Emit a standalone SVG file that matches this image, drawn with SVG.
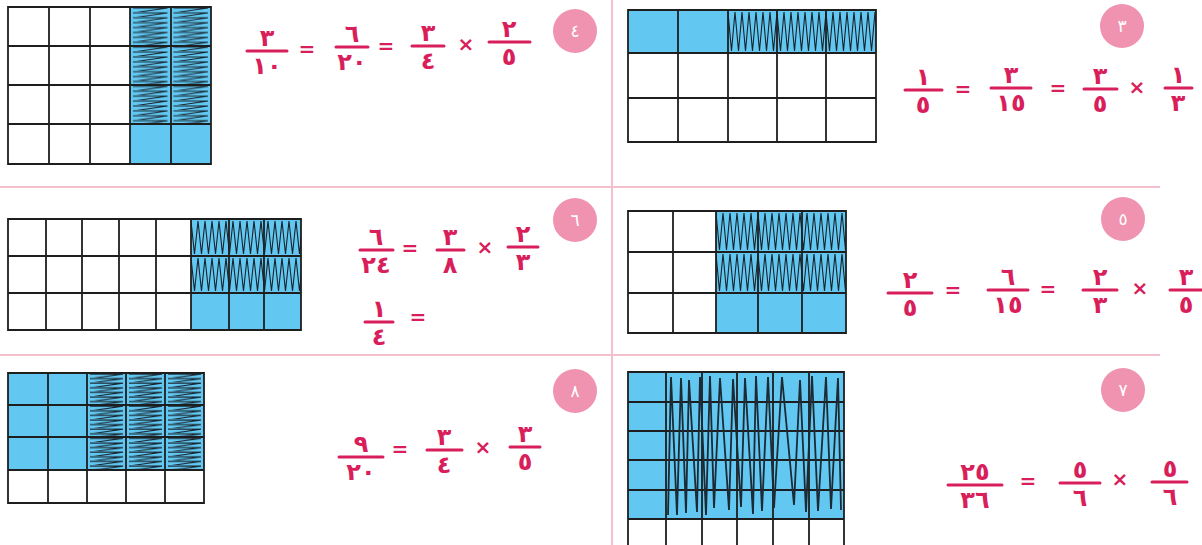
<svg xmlns="http://www.w3.org/2000/svg" width="1202" height="545" viewBox="0 0 1202 545">
<style>
.bg{fill:#ffffff}
.div{stroke:#f5bfcc;stroke-width:2;fill:none}
.blue{fill:#62c8f1}
.grid{stroke:#1e1e1e;stroke-width:1.8;fill:none}
.zz{stroke:#1c2a35;stroke-width:1.8;fill:none}
.n{font-family:"DejaVu Sans","Noto Sans",sans-serif;font-weight:bold;font-size:24px;fill:#d81e5b;text-anchor:middle}
.op{font-family:"DejaVu Sans","Noto Sans",sans-serif;font-weight:bold;font-size:20px;fill:#d81e5b;text-anchor:middle}
.bar{stroke:#d81e5b;stroke-width:3;stroke-linecap:round}
.badge{fill:#ef93b1}
.bt{font-family:"DejaVu Sans","Noto Sans",sans-serif;font-size:17px;fill:#ffffff;text-anchor:middle}
</style>
<defs>
<pattern id="hz4" patternUnits="userSpaceOnUse" x="130" y="7" width="40.5" height="4.9"><path d="M3,1 H37.5 L3,5.9" stroke="#16222c" stroke-width="1" fill="none"/></pattern>
<pattern id="hz8" patternUnits="userSpaceOnUse" x="87" y="373" width="39" height="4.6"><path d="M3,1 H36 L3,5.6" stroke="#16222c" stroke-width="1" fill="none"/></pattern>
<pattern id="hv3" patternUnits="userSpaceOnUse" x="728" y="10" width="7" height="43"><path d="M0,2 L3.5,41 L7,2" stroke="#16222c" stroke-width="1.1" fill="none"/></pattern>
<pattern id="hv6" patternUnits="userSpaceOnUse" x="191" y="219" width="7" height="37"><path d="M0,2 L3.5,35 L7,2" stroke="#16222c" stroke-width="1.1" fill="none"/></pattern>
<pattern id="hv5" patternUnits="userSpaceOnUse" x="716" y="211" width="7" height="41"><path d="M0,2 L3.5,39 L7,2" stroke="#16222c" stroke-width="1.1" fill="none"/></pattern>
</defs>
<rect class="bg" x="0" y="0" width="1202" height="545"/>
<g id="connectors">
<path class="div" d="M612,0V545 M0,187H1160 M0,355H1160"/>
</g>

<g id="panel4">
<rect class="blue" x="130" y="7" width="81" height="157"/>
<rect fill="url(#hz4)" x="130" y="7" width="81" height="117"/>
<path class="grid" d="M8,7H211V164H8Z M49,7V164 M90,7V164 M130,7V164 M171,7V164 M8,46H211 M8,85H211 M8,124H211"/>
<line class="bar" x1="247" y1="51" x2="287" y2="51"/><text class="n" x="267" y="46">٣</text><text class="n" x="267" y="74">١٠</text>
<text class="op" x="307" y="56">=</text>
<line class="bar" x1="336" y1="47" x2="368" y2="47"/><text class="n" x="352" y="42">٦</text><text class="n" x="352" y="70">٢٠</text>
<text class="op" x="386" y="53">=</text>
<line class="bar" x1="412" y1="46" x2="444" y2="46"/><text class="n" x="428" y="41">٣</text><text class="n" x="428" y="69">٤</text>
<text class="op" x="466" y="51">×</text>
<line class="bar" x1="489" y1="42" x2="530" y2="42"/><text class="n" x="509" y="37">٢</text><text class="n" x="509" y="65">٥</text>
<circle class="badge" cx="575" cy="31" r="22"/><text class="bt" x="575" y="37">٤</text>
</g>

<g id="panel3">
<rect class="blue" x="628" y="10" width="248" height="43"/>
<rect fill="url(#hv3)" x="728" y="10" width="148" height="43"/>
<path class="grid" d="M628,10H876V142H628Z M678,10V142 M728,10V142 M777,10V142 M826,10V142 M628,53H876 M628,98H876"/>
<line class="bar" x1="905" y1="90" x2="942" y2="90"/><text class="n" x="923" y="85">١</text><text class="n" x="923" y="113">٥</text>
<text class="op" x="963" y="96">=</text>
<line class="bar" x1="991" y1="88" x2="1031" y2="88"/><text class="n" x="1011" y="83">٣</text><text class="n" x="1011" y="111">١٥</text>
<text class="op" x="1058" y="95">=</text>
<line class="bar" x1="1084" y1="89" x2="1117" y2="89"/><text class="n" x="1100" y="84">٣</text><text class="n" x="1100" y="112">٥</text>
<text class="op" x="1137" y="94">×</text>
<line class="bar" x1="1165" y1="88" x2="1192" y2="88"/><text class="n" x="1178" y="83">١</text><text class="n" x="1178" y="111">٣</text>
<circle class="badge" cx="1122" cy="26" r="22"/><text class="bt" x="1122" y="32">٣</text>
</g>

<g id="panel6">
<rect class="blue" x="191" y="219" width="110" height="111"/>
<rect fill="url(#hv6)" x="191" y="219" width="110" height="74"/>
<path class="grid" d="M8,219H301V330H8Z M46,219V330 M82,219V330 M119,219V330 M156,219V330 M191,219V330 M229,219V330 M264,219V330 M8,256H301 M8,293H301"/>
<line class="bar" x1="360" y1="250" x2="393" y2="250"/><text class="n" x="376" y="245">٦</text><text class="n" x="376" y="273">٢٤</text>
<text class="op" x="410" y="255">=</text>
<line class="bar" x1="437" y1="250" x2="464" y2="250"/><text class="n" x="450" y="245">٣</text><text class="n" x="450" y="273">٨</text>
<text class="op" x="485" y="254">×</text>
<line class="bar" x1="508" y1="247" x2="538" y2="247"/><text class="n" x="523" y="242">٢</text><text class="n" x="523" y="270">٣</text>
<line class="bar" x1="365" y1="322" x2="393" y2="322"/><text class="n" x="379" y="317">١</text><text class="n" x="379" y="345">٤</text>
<text class="op" x="418" y="324">=</text>
<circle class="badge" cx="575" cy="220" r="22"/><text class="bt" x="575" y="226">٦</text>
</g>

<g id="panel5">
<rect class="blue" x="716" y="211" width="130" height="122"/>
<rect fill="url(#hv5)" x="716" y="211" width="130" height="82"/>
<path class="grid" d="M628,211H846V333H628Z M673,211V333 M716,211V333 M758,211V333 M802,211V333 M628,252H846 M628,293H846"/>
<line class="bar" x1="888" y1="293" x2="932" y2="293"/><text class="n" x="910" y="288">٢</text><text class="n" x="910" y="316">٥</text>
<text class="op" x="953" y="297">=</text>
<line class="bar" x1="988" y1="290" x2="1028" y2="290"/><text class="n" x="1008" y="285">٦</text><text class="n" x="1008" y="313">١٥</text>
<text class="op" x="1048" y="296">=</text>
<line class="bar" x1="1083" y1="290" x2="1117" y2="290"/><text class="n" x="1100" y="285">٢</text><text class="n" x="1100" y="313">٣</text>
<text class="op" x="1140" y="295">×</text>
<line class="bar" x1="1170" y1="290" x2="1202" y2="290"/><text class="n" x="1186" y="285">٣</text><text class="n" x="1186" y="313">٥</text>
<circle class="badge" cx="1123" cy="219" r="22"/><text class="bt" x="1123" y="225">٥</text>
</g>

<g id="panel8">
<rect class="blue" x="8" y="373" width="196" height="97"/>
<rect fill="url(#hz8)" x="87" y="373" width="117" height="97"/>
<path class="grid" d="M8,373H204V503H8Z M48,373V503 M87,373V503 M126,373V503 M165,373V503 M8,405H204 M8,437H204 M8,470H204"/>
<line class="bar" x1="339" y1="457" x2="383" y2="457"/><text class="n" x="361" y="452">٩</text><text class="n" x="361" y="480">٢٠</text>
<text class="op" x="400" y="456">=</text>
<line class="bar" x1="427" y1="450" x2="462" y2="450"/><text class="n" x="444" y="445">٣</text><text class="n" x="444" y="473">٤</text>
<text class="op" x="483" y="454">×</text>
<line class="bar" x1="510" y1="447" x2="540" y2="447"/><text class="n" x="525" y="442">٣</text><text class="n" x="525" y="470">٥</text>
<circle class="badge" cx="575" cy="391" r="22"/><text class="bt" x="575" y="397">٨</text>
</g>

<g id="panel7">
<rect class="blue" x="628" y="372" width="216" height="147"/>
<path class="grid" d="M628,548V372H844V548 M666,372V548 M702,372V548 M737,372V548 M773,372V548 M809,372V548 M628,402H844 M628,431H844 M628,460H844 M628,490H844 M628,519H844"/>
<polyline class="zz" points="668,515 671,377 677,515 681,378 686,513 689,380 697,512 700,377 706,515 710,376 714,508 720,378 729,510 733,379 741,507 745,378 753,514 756,376 762,511 768,377 774,508 782,377 794,505 800,380 806,512 812,376 818,511 826,377 831,509 838,378 841,510"/>
<line class="bar" x1="948" y1="485" x2="1002" y2="485"/><text class="n" x="975" y="480">٢٥</text><text class="n" x="975" y="508">٣٦</text>
<text class="op" x="1028" y="488">=</text>
<line class="bar" x1="1060" y1="483" x2="1100" y2="483"/><text class="n" x="1080" y="478">٥</text><text class="n" x="1080" y="506">٦</text>
<text class="op" x="1120" y="486">×</text>
<line class="bar" x1="1152" y1="482" x2="1187" y2="482"/><text class="n" x="1170" y="477">٥</text><text class="n" x="1170" y="505">٦</text>
<circle class="badge" cx="1123" cy="390" r="22"/><text class="bt" x="1123" y="396">٧</text>
</g>
</svg>
